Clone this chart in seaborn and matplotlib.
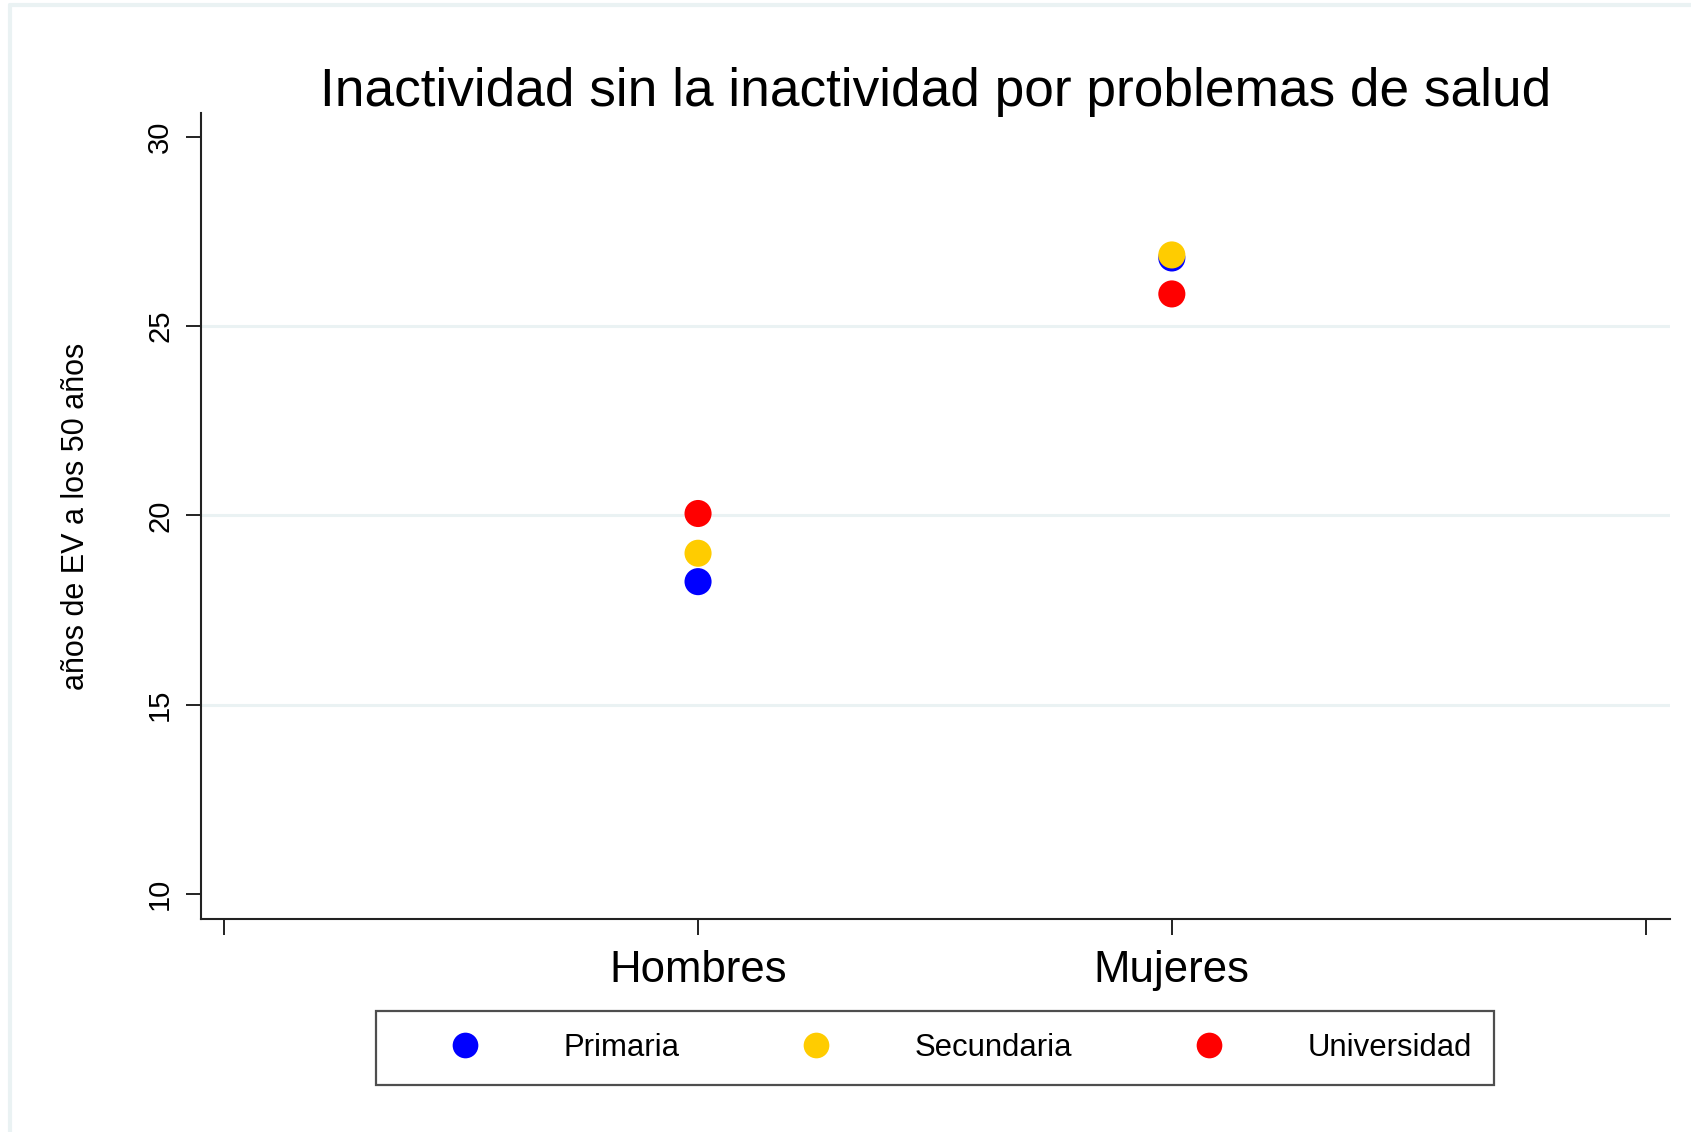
import pandas as pd
import matplotlib.pyplot as plt
import seaborn as sns

# Values
sexo = ["Hombres", "Hombres", "Hombres", "Mujeres", "Mujeres", "Mujeres"]
nivel = ["Primaria", "Secundaria", "Universidad", "Primaria", "Secundaria", "Universidad"]
anos = [18.25, 19.0, 20.05, 26.8, 26.88, 25.85]

niveles = ["Primaria", "Secundaria", "Universidad"]
colores = ["#0000ff", "#ffcc00", "#ff0000"]

data = pd.DataFrame({"sexo": sexo, "nivel": nivel, "anos": anos})

sns.set_theme(style="white")
plt.rcParams['font.family'] = ['Liberation Sans', 'DejaVu Sans']
plt.rcParams['text.color'] = 'black'
plt.rcParams['axes.labelcolor'] = 'black'
plt.rcParams['xtick.color'] = 'black'
plt.rcParams['ytick.color'] = 'black'

fig = plt.figure(figsize=(16.91, 11.32), dpi=100)
ax = fig.add_axes([0.1186, 0.1882, 0.869, 0.712])

# light outer frame (Stata style)
fig.add_artist(plt.Line2D([10 / 1691, 10 / 1691], [0, 1 - 5 / 1132], transform=fig.transFigure,
                          color="#eaf2f3", lw=3))
fig.add_artist(plt.Line2D([10 / 1691, 1], [1 - 5 / 1132, 1 - 5 / 1132], transform=fig.transFigure,
                          color="#eaf2f3", lw=3))

sns.stripplot(data=data, x="sexo", y="anos", hue="nivel", hue_order=niveles,
              palette=colores, jitter=False, dodge=False, size=19.5,
              linewidth=0, ax=ax, zorder=3)

# grid lines at interior ticks
for v in [15, 20, 25]:
    ax.axhline(v, color="#eaf2f3", lw=2.2, zorder=0)

ax.set_xlim(-1.05, 2.0515)
ax.set_ylim(9.34, 30.63)
ax.set_xticks([-1, 0, 1, 2])
ax.set_xticklabels(["", "Hombres", "Mujeres", ""], fontsize=31.5)
ax.set_yticks([10, 15, 20, 25, 30])
ax.set_yticklabels(["10", "15", "20", "25", "30"], fontsize=21, rotation=90, va="center")
ax.tick_params(axis="x", length=11.5, width=1.4, color="#222222", pad=11, bottom=True)
ax.tick_params(axis="y", length=11, width=1.4, color="#222222", pad=8, left=True)

for s in ["top", "right"]:
    ax.spines[s].set_visible(False)
for s in ["left", "bottom"]:
    ax.spines[s].set_color("#222222")
    ax.spines[s].set_linewidth(1.5)

ax.set_xlabel("")
ax.set_ylabel("años de EV a los 50 años", fontsize=22, labelpad=40)
ax.set_title("Inactividad sin la inactividad por problemas de salud", fontsize=38.3, pad=5)

ax.legend_.remove()
handles = [plt.Line2D([], [], marker="o", ls="", markersize=18.5, color=c, markeredgewidth=0)
           for c in colores]
leg = fig.legend(handles, niveles, loc="center", bbox_to_anchor=(935 / 1691, 1 - 1048 / 1132),
                 ncol=3, fontsize=22.4, frameon=True, fancybox=False, handlelength=4.29,
                 handletextpad=1.02, columnspacing=2.25, borderpad=0.72)
leg.get_frame().set_edgecolor("#222222")
leg.get_frame().set_linewidth(1.6)

fig.savefig("out.png", dpi=100)
